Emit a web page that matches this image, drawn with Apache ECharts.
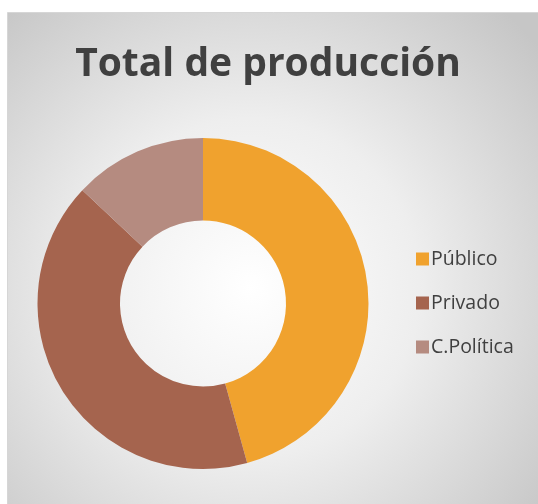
<!DOCTYPE html>
<html><head><meta charset="utf-8">
<script src="https://cdn.jsdelivr.net/npm/echarts@6/dist/echarts.min.js"></script>
<style>html,body{margin:0;padding:0;background:#fff}#c{width:538px;height:504px}</style>
</head><body><div id="c"></div>
<script>
const categories = ['Público', 'Privado', 'C.Política'];
const values = [45.7, 41.3, 13.0];
const colors = ['#F0A22E', '#A5644E', '#B58B80'];
const titleText = 'Total de producción';

const chart = echarts.init(document.getElementById('c'), null, {renderer: 'canvas'});
chart.setOption({
  animation: false,
  graphic: [{
    type: 'rect', z: -10, silent: true,
    shape: {x: 7.5, y: 12.5, width: 540, height: 500},
    style: {
      fill: new echarts.graphic.RadialGradient(0.45, 0.55, 0.75, [
        {offset: 0, color: '#ffffff'},
        {offset: 0.45, color: '#eeeeee'},
        {offset: 1, color: '#c6c6c6'}
      ]),
      stroke: '#d6d6d6', lineWidth: 1
    }
  }],
  title: {
    text: titleText, left: 263, top: 40, textAlign: 'center',
    textStyle: {fontFamily: 'Open Sans', fontWeight: 'bold', fontSize: 39, color: '#404040'}
  },
  legend: {
    orient: 'vertical', left: 411, top: 244, itemGap: 24,
    itemWidth: 13, itemHeight: 13, icon: 'rect',
    textStyle: {fontFamily: 'Open Sans', fontSize: 19.5, color: '#404040', padding: [0,0,0,-3]},
    data: categories
  },
  series: [{
    type: 'pie', center: [203, 303.5], radius: [83, 165.5],
    startAngle: 90, clockwise: true,
    label: {show: false}, labelLine: {show: false},
    itemStyle: {borderWidth: 0},
    emphasis: {disabled: true},
    data: categories.map((n, i) => ({name: n, value: values[i], itemStyle: {color: colors[i]}}))
  }]
});
</script></body></html>
